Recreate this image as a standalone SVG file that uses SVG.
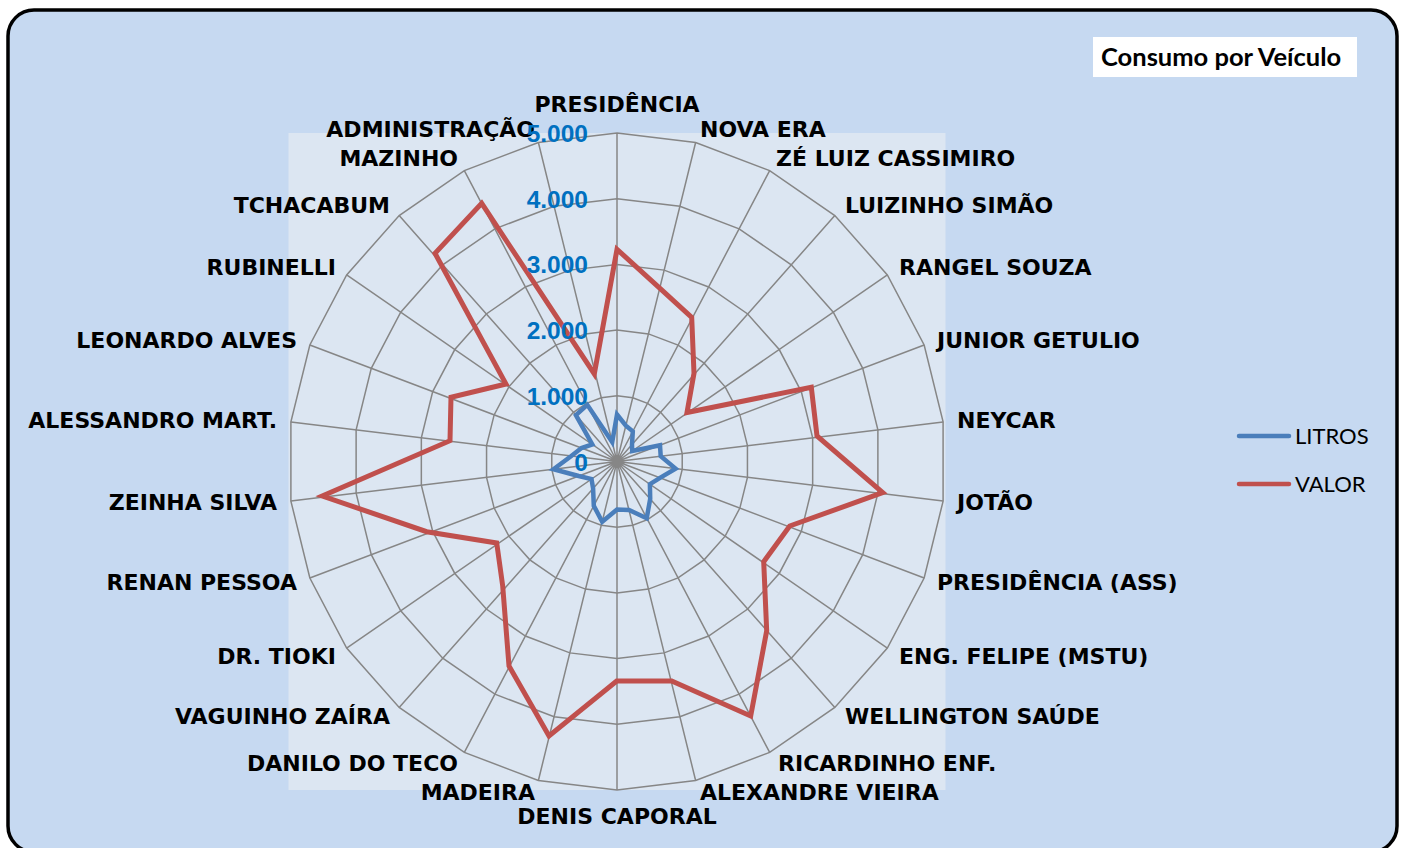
<svg xmlns="http://www.w3.org/2000/svg" xmlns:xlink="http://www.w3.org/1999/xlink" width="1408" height="848" viewBox="0 0 1408 848">
<style>
.grid{fill:none;stroke:#868686;stroke-width:1.5;vector-effect:non-scaling-stroke}
.cat{font-family:"DejaVu Sans",Verdana,sans-serif;font-weight:bold;font-size:22px;fill:#000}
.val{font-family:"Liberation Sans",Arial,sans-serif;font-weight:bold;font-size:24.5px;fill:#0070C0;text-anchor:end}
.leg{font-family:Lato,"Liberation Sans",sans-serif;font-size:22px;fill:#000}
.s{fill:none;stroke-linejoin:miter;stroke-miterlimit:6}
</style>
<defs>
<polygon id="ring" class="grid" points="0,-328.5 78.62,-318.95 152.66,-290.87 217.83,-245.89 270.35,-186.61 307.15,-116.49 326.1,-39.6 326.1,39.6 307.15,116.49 270.35,186.61 217.83,245.89 152.66,290.87 78.62,318.95 0,328.5 -78.62,318.95 -152.66,290.87 -217.83,245.89 -270.35,186.61 -307.15,116.49 -326.1,39.6 -326.1,-39.6 -307.15,-116.49 -270.35,-186.61 -217.83,-245.89 -152.66,-290.87 -78.62,-318.95"/>
</defs>
<g id="chart-area">
<rect x="8" y="10" width="1389" height="842" rx="26" ry="26" fill="#C6D9F1" stroke="#000" stroke-width="3.5"/>
<rect x="288.5" y="133" width="657" height="657" fill="#DCE6F2"/>
</g>
<g id="grid" transform="translate(617,461.5)">
<use xlink:href="#ring" transform="scale(0.2)"/>
<use xlink:href="#ring" transform="scale(0.4)"/>
<use xlink:href="#ring" transform="scale(0.6)"/>
<use xlink:href="#ring" transform="scale(0.8)"/>
<use xlink:href="#ring"/>
<path class="grid" d="M0 0L0 -328.5M0 0L78.62 -318.95M0 0L152.66 -290.87M0 0L217.83 -245.89M0 0L270.35 -186.61M0 0L307.15 -116.49M0 0L326.1 -39.6M0 0L326.1 39.6M0 0L307.15 116.49M0 0L270.35 186.61M0 0L217.83 245.89M0 0L152.66 290.87M0 0L78.62 318.95M0 0L0 328.5M0 0L-78.62 318.95M0 0L-152.66 290.87M0 0L-217.83 245.89M0 0L-270.35 186.61M0 0L-307.15 116.49M0 0L-326.1 39.6M0 0L-326.1 -39.6M0 0L-307.15 -116.49M0 0L-270.35 -186.61M0 0L-217.83 -245.89M0 0L-152.66 -290.87M0 0L-78.62 -318.95"/>
</g>
<g id="connectors">
<polygon id="series-litros" class="s" stroke="#4A7EBB" stroke-width="4.5" points="617,414.5 625.9,425.6 632.8,431.4 632,444.6 632.2,451 660,445.2 660.7,456.2 675.6,468.6 660,477.8 649.9,484.2 650.2,498.9 646.7,518.2 629,510 617,509.5 602.2,521.7 593.8,505.8 593.1,488.4 591.5,479.1 578.7,476 553.5,469.2 571.3,456 581.5,448 592.3,444.5 575.9,415.1 587.3,404.8 612.2,442.1"/>
<polygon id="series-valor" class="s" stroke="#C0504D" stroke-width="5" points="617,249.3 659.7,288.2 691.7,317.3 694,373.3 687,412.5 811.3,387.3 817,436 882.7,492.7 789.7,526 763.7,561.7 766.7,630.7 750.7,716 671.7,681 616.7,681 549,736 509,666 502.7,586 496.7,543 426.7,531.7 322.3,496 450,440.7 451,397.3 506,384 435,253.3 481.7,203.3 594.3,374"/>
</g>
<g id="category-labels">
<text class="cat" x="617" y="112" text-anchor="middle">PRESIDÊNCIA</text>
<text class="cat" x="700" y="137">NOVA ERA</text>
<text class="cat" x="776" y="166">ZÉ LUIZ CASSIMIRO</text>
<text class="cat" x="845" y="213">LUIZINHO SIMÃO</text>
<text class="cat" x="899" y="275">RANGEL SOUZA</text>
<text class="cat" x="937" y="348">JUNIOR GETULIO</text>
<text class="cat" x="957" y="428">NEYCAR</text>
<text class="cat" x="957" y="510">JOTÃO</text>
<text class="cat" x="937" y="590">PRESIDÊNCIA (ASS)</text>
<text class="cat" x="899" y="664">ENG. FELIPE (MSTU)</text>
<text class="cat" x="845" y="724">WELLINGTON SAÚDE</text>
<text class="cat" x="778" y="771">RICARDINHO ENF.</text>
<text class="cat" x="700" y="800">ALEXANDRE VIEIRA</text>
<text class="cat" x="617" y="824" text-anchor="middle">DENIS CAPORAL</text>
<text class="cat" x="535" y="800" text-anchor="end">MADEIRA</text>
<text class="cat" x="458" y="771" text-anchor="end">DANILO DO TECO</text>
<text class="cat" x="390" y="724" text-anchor="end">VAGUINHO ZAÍRA</text>
<text class="cat" x="336" y="664" text-anchor="end">DR. TIOKI</text>
<text class="cat" x="297" y="590" text-anchor="end">RENAN PESSOA</text>
<text class="cat" x="277" y="510" text-anchor="end">ZEINHA SILVA</text>
<text class="cat" x="277" y="428" text-anchor="end">ALESSANDRO MART.</text>
<text class="cat" x="297" y="348" text-anchor="end">LEONARDO ALVES</text>
<text class="cat" x="336" y="275" text-anchor="end">RUBINELLI</text>
<text class="cat" x="390" y="213" text-anchor="end">TCHACABUM</text>
<text class="cat" x="458" y="166" text-anchor="end">MAZINHO</text>
<text class="cat" x="535" y="137" text-anchor="end">ADMINISTRAÇÃO</text>
</g>
<g id="value-labels">
<text class="val" x="588" y="141.5">5.000</text>
<text class="val" x="588" y="207.5">4.000</text>
<text class="val" x="588" y="273">3.000</text>
<text class="val" x="588" y="338.5">2.000</text>
<text class="val" x="588" y="404.5">1.000</text>
<text class="val" x="588" y="470.5">0</text>
</g>
<g id="title">
<rect x="1093" y="37" width="264" height="40" fill="#FFFFFF"/>
<text x="1101" y="66" font-family="Lato,'Liberation Sans',sans-serif" font-weight="bold" font-size="25.5" fill="#000">Consumo por Veículo</text>
</g>
<g id="legend">
<line x1="1239" y1="436" x2="1289" y2="436" stroke="#4A7EBB" stroke-width="4.5" stroke-linecap="round"/>
<text class="leg" x="1295" y="444">LITROS</text>
<line x1="1239" y1="484" x2="1289" y2="484" stroke="#C0504D" stroke-width="4.5" stroke-linecap="round"/>
<text class="leg" x="1295" y="492">VALOR</text>
</g>
</svg>
